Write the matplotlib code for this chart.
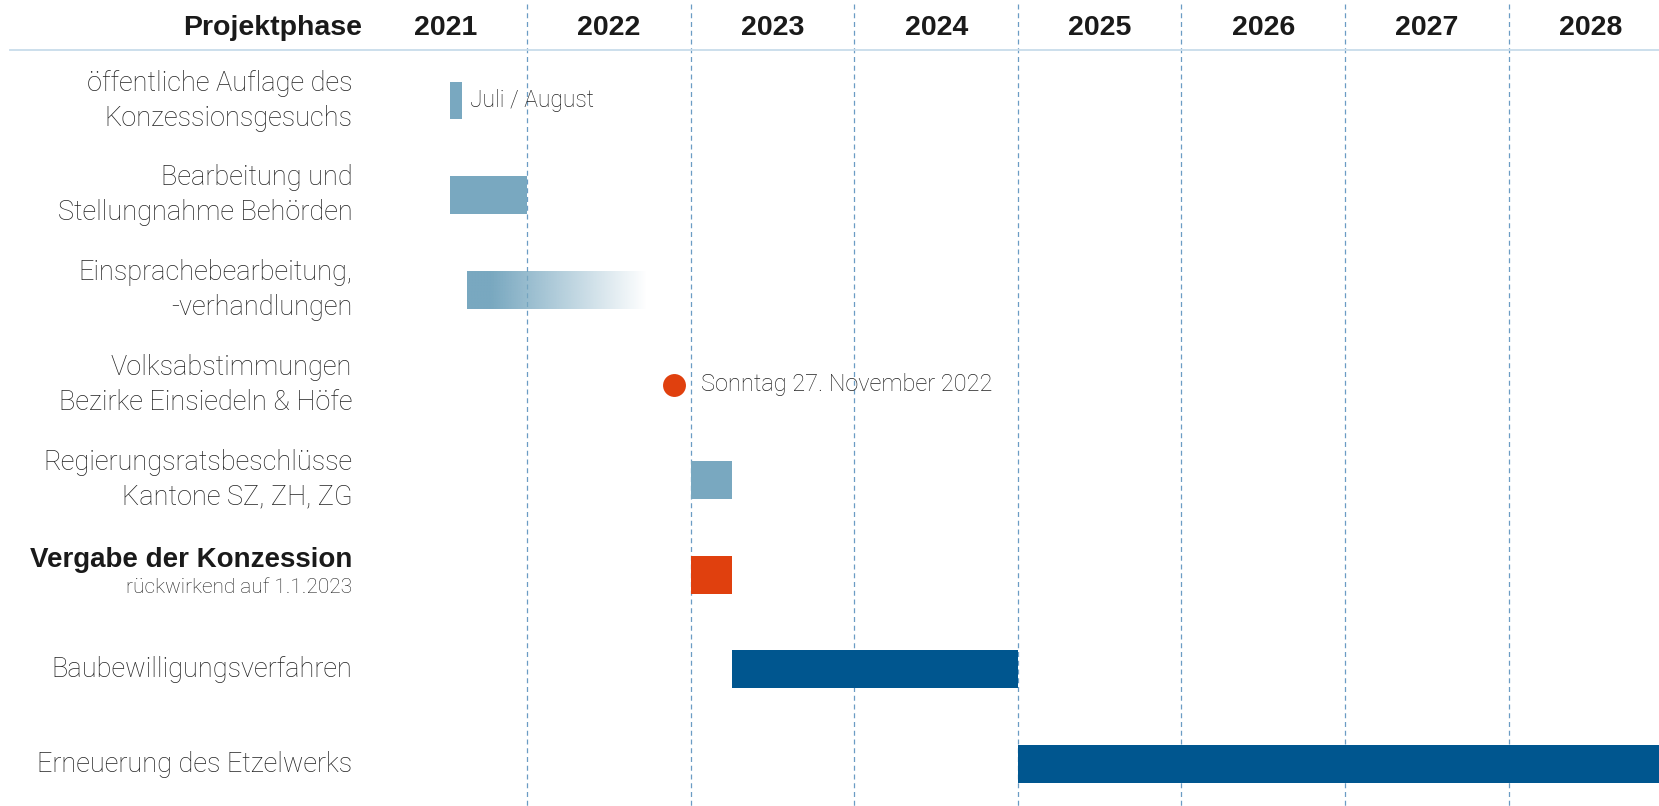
import matplotlib
matplotlib.use("Agg")
import matplotlib.pyplot as plt
import numpy as np

# phases, top to bottom
phases = [
    "öffentliche Auflage des\nKonzessionsgesuchs",
    "Bearbeitung und\nStellungnahme Behörden",
    "Einsprachebearbeitung,\n-verhandlungen",
    "Volksabstimmungen\nBezirke Einsiedeln & Höfe",
    "Regierungsratsbeschlüsse\nKantone SZ, ZH, ZG",
    "Vergabe der Konzession",
    "Baubewilligungsverfahren",
    "Erneuerung des Etzelwerks",
]
# start / end in decimal years (None = no bar)
starts = [2021.53, 2021.53, 2021.63, None, 2023.0, 2023.0, 2023.25, 2025.0]
ends = [2021.60, 2022.0, 2022.73, None, 2023.25, 2023.25, 2025.0, 2029.0]
kinds = ["light", "light", "fade", "dot", "light", "red", "dark", "dark"]
vote_date = 2022.9
years = list(range(2021, 2029))

colors = {"light": "#79a8c0", "red": "#e0400e", "dark": "#00568f", "fade": "#79a8c0", "dot": "#e0400e"}

light_font = ["Roboto", "DejaVu Sans"]
bold_font = ["Liberation Sans", "DejaVu Sans"]
txt = "#222222"

fig = plt.figure(figsize=(16.59, 8.06), dpi=100)
ax = fig.add_axes([0, 0, 1, 1])
ax.axis("off")

# year separators and header
for y in years[1:]:
    ax.plot([y, y], [-1.02, 7.44], color="#6b9cc4", lw=0.9, ls=(0, (4, 3)), zorder=1)
ax.plot([2018.84, 2028.92], [-0.53, -0.53], color="#c8dceb", lw=1.3, zorder=1)
for y in years:
    ax.text(y + 0.5, -0.76, str(y), ha="center", va="center", fontsize=20.5,
            fontweight="bold", family=bold_font, color="#1a1a1a")
ax.text(2020.99, -0.76, "Projektphase", ha="right", va="center", fontsize=20.5,
        fontweight="bold", family=bold_font, color="#1a1a1a")

bar_h = 0.40
for i, (name, s, e, k) in enumerate(zip(phases, starts, ends, kinds)):
    if i == 5:
        ax.text(2020.93, i - 0.15, name, ha="right", va="center", fontsize=20,
                fontweight="bold", family=bold_font, color="#1a1a1a")
        ax.text(2020.93, i + 0.14, "rückwirkend auf 1.1.2023", ha="right", va="center",
                fontsize=15, fontweight="light", family=light_font, color=txt)
    else:
        ax.text(2020.93, i, name, ha="right", va="center", fontsize=19.5,
                fontweight="light", family=light_font, color=txt, linespacing=1.38)
    if k == "dot":
        ax.plot(vote_date, i, "o", ms=16.5, color=colors[k], mec="none", zorder=3)
        ax.text(vote_date + 0.16, i, "Sonntag 27. November 2022", ha="left", va="center",
                fontsize=17, fontweight="light", family=light_font, color=txt)
    elif k == "fade":
        rgb = matplotlib.colors.to_rgb(colors[k])
        xs = np.linspace(s, e, 300)
        alpha = np.clip((e - xs) / (e - 2021.78), 0, 1)
        img = np.zeros((1, len(xs), 4))
        img[0, :, :3] = rgb
        img[0, :, 3] = alpha
        ax.imshow(img, extent=[s, e, i + bar_h / 2, i - bar_h / 2], aspect="auto",
                  interpolation="bilinear", zorder=2)
    else:
        ax.barh(i, e - s, left=s, height=bar_h, color=colors[k], zorder=2)

ax.text(ends[0] + 0.05, 0, "Juli / August", ha="left", va="center", fontsize=16.5,
        fontweight="light", family=light_font, color=txt)

ax.set_xlim(2018.776, 2028.92)
ax.set_ylim(7.44, -1.06)
fig.savefig("out.png", dpi=100, facecolor="white")
